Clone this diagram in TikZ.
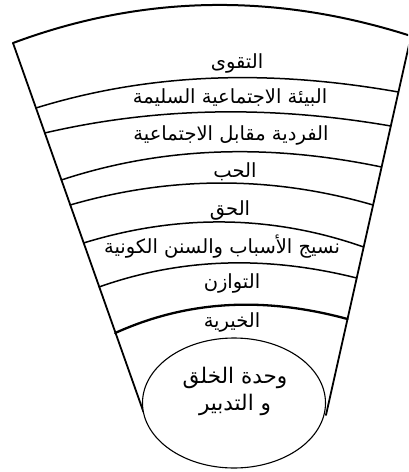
\documentclass[tikz,border=0pt]{standalone}
\usepackage{fontspec}
\newfontfamily\arabicfont[Script=Arabic]{DejaVu Sans}
\TeXXeTstate=1
\begin{document}
\begin{tikzpicture}[x=1pt,y=-1pt,
  bandline/.style={line width=1.5pt,line cap=round},
  sideline/.style={line width=1.8pt,line cap=round},
  lbl/.style={inner sep=0pt,font=\arabicfont\fontsize{19.5}{20}\selectfont},
  corelbl/.style={inner sep=0pt,align=center,font=\arabicfont\fontsize{21.5}{27}\selectfont}]
\useasboundingbox (0,0) rectangle (408,472);
\clip (0,0) rectangle (408,472);
% outer frame
\coordinate (TL) at (13,43);
\coordinate (TR) at (411,36);
\coordinate (BL) at (143.5,412);
\coordinate (BR) at (326,415);
\draw[sideline,line width=2pt] (TL) .. controls (145.7,-6.5) and (278.3,-6.5) .. (TR);
\draw[sideline] (TL) -- (BL);
\draw[sideline] (TR) -- (BR);
% band separators
\draw[bandline] (35.9,108) .. controls (156.7,70.7) and (277.6,70.7) .. (398.4,92);
\draw[bandline] (44.7,133) .. controls (160.1,106.1) and (275.4,106.1) .. (390.8,126);
\draw[bandline] (61.3,180) .. controls (168.1,144.8) and (274.8,144.8) .. (381.6,167);
\draw[bandline] (70.1,205) .. controls (171.1,175.7) and (272.1,175.7) .. (373.1,205);
\draw[bandline] (83.5,243) .. controls (176.9,214.3) and (270.3,214.3) .. (363.7,247);
\draw[bandline] (99,287) .. controls (184.9,256.5) and (270.8,256.5) .. (356.7,278);
\draw[bandline,line width=2.3pt] (115.2,333) .. controls (192.6,298) and (270,298) .. (347.5,319);
% core ellipse
\draw[line width=1.1pt,fill=white] (234,403) ellipse [x radius=91.5pt, y radius=65pt];
% labels
\node[lbl] (t1) at (237,63) {\beginR التقوى\endR};
\node[lbl] (t2) at (230,98) {\beginR البيئة الاجتماعية السليمة\endR};
\node[lbl] (t3) at (231,135) {\beginR الفردية مقابل الاجتماعية\endR};
\node[lbl] (t4) at (235,172) {\beginR الحب\endR};
\node[lbl] (t5) at (230,210) {\beginR الحق\endR};
\node[lbl] (t6) at (222,247) {\beginR نسيج الأسباب والسنن الكونية\endR};
\node[lbl] (t7) at (232,283) {\beginR التوازن\endR};
\node[lbl] (t8) at (232,322) {\beginR الخيرية\endR};
\node[corelbl] (core) at (235,391) {\beginR وحدة الخلق\endR\\\beginR و التدبير\endR};
\end{tikzpicture}
\end{document}
